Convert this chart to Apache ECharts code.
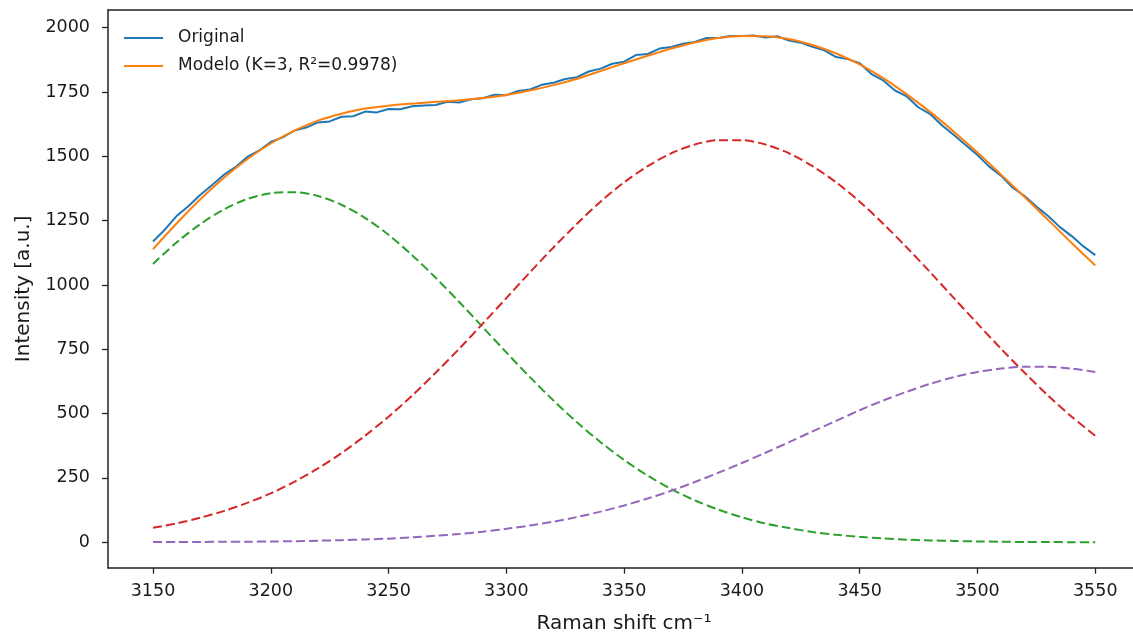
<!DOCTYPE html>
<html>
<head>
<meta charset="utf-8">
<script src="https://cdn.jsdelivr.net/npm/echarts@6/dist/echarts.min.js"></script>
<style>html,body{margin:0;padding:0;background:#fff}#c{width:1133px;height:636px}</style>
</head>
<body>
<div id="c"></div>
<script>
// Raman shift (cm^-1) for the measured spectrum (step 5)
const xOriginal = [3150,3155,3160,3165,3170,3175,3180,3185,3190,3195,3200,3205,3210,3215,3220,3225,3230,3235,3240,3245,3250,3255,3260,3265,3270,3275,3280,3285,3290,3295,3300,3305,3310,3315,3320,3325,3330,3335,3340,3345,3350,3355,3360,3365,3370,3375,3380,3385,3390,3395,3400,3405,3410,3415,3420,3425,3430,3435,3440,3445,3450,3455,3460,3465,3470,3475,3480,3485,3490,3495,3500,3505,3510,3515,3520,3525,3530,3535,3540,3545,3550];
const original = [1169,1215,1268,1306,1350,1388,1428,1458,1498,1522,1556,1574,1600,1612,1632,1636,1654,1656,1674,1671,1684,1683,1695,1698,1700,1712,1709,1722,1726,1740,1738,1754,1760,1778,1786,1801,1808,1830,1841,1860,1868,1894,1898,1919,1925,1938,1945,1960,1960,1968,1968,1970,1962,1967,1950,1942,1926,1912,1886,1878,1862,1820,1795,1756,1733,1690,1664,1620,1583,1544,1505,1460,1425,1378,1346,1305,1268,1225,1190,1150,1116];

// Raman shift for fitted curves (step 10)
const xFit = [3150,3160,3170,3180,3190,3200,3210,3220,3230,3240,3250,3260,3270,3280,3290,3300,3310,3320,3330,3340,3350,3360,3370,3380,3390,3400,3410,3420,3430,3440,3450,3460,3470,3480,3490,3500,3510,3520,3530,3540,3550];
const model = [1139,1239,1332,1416,1489,1550,1600,1639,1666,1686,1697,1705,1712,1718,1727,1739,1756,1777,1802,1832,1862,1891,1919,1943,1960,1968,1967,1956,1933,1900,1858,1804,1741,1672,1596,1515,1429,1342,1253,1163,1076];
const comp1 = [1082,1165,1236,1293,1334,1357,1361,1346,1312,1261,1195,1116,1028,934,836,738,642,551,466,389,320,259,207,163,127,97,73,55,40,29,21,15,10,7,5,3,2,1,1,0,0];
const comp2 = [56,73,95,121,153,190,235,287,346,414,488,570,659,752,850,949,1049,1146,1238,1324,1399,1462,1512,1546,1563,1563,1546,1512,1462,1399,1324,1238,1146,1049,949,850,752,659,570,488,414];
const comp3 = [1,1,1,2,2,3,4,6,8,11,14,19,25,32,41,52,65,80,98,119,143,170,200,234,270,308,348,389,431,472,513,551,585,616,642,662,675,682,682,675,662];

const xTicks = [3150,3200,3250,3300,3350,3400,3450,3500,3550];
const yTicks = [0,250,500,750,1000,1250,1500,1750,2000];

const names = ['Original','Modelo (K=3, R\u00b2=0.9978)'];
const xLabel = 'Raman shift cm\u207b\u00b9';
const yLabel = 'Intensity [a.u.]';

const pairs = (xs, ys) => xs.map((x, i) => [x, ys[i]]);
const FONT = 'DejaVu Sans';
const axisCol = '#222';
const txtCol = '#1a1a1a';
const X_MIN = 3130.9, X_MAX = 3569;

const chart = echarts.init(document.getElementById('c'), null, {renderer: 'canvas'});
const dashed = (data, color) => ({
  type: 'line', data: pairs(xFit, data), symbol: 'none', smooth: 0.3,
  lineStyle: {color, width: 2, type: [9, 4]}, z: 3, silent: true
});
chart.setOption({
  animation: false,
  backgroundColor: '#fff',
  grid: {left: 108, top: 10, width: 1032, height: 557.7, outerBoundsMode: 'none', containLabel: false, show: false},
  legend: {
    orient: 'vertical', left: 124, top: 28, padding: 0, itemGap: 8,
    itemWidth: 39, itemHeight: 2,
    textStyle: {fontFamily: FONT, fontSize: 17, color: txtCol, lineHeight: 20, padding: [0, 0, 0, 10]},
    data: names.map(n => ({name: n, icon: 'rect'}))
  },
  xAxis: [{
    type: 'value', position: 'bottom', min: X_MIN, max: X_MAX,
    axisLine: {show: true, onZero: false, lineStyle: {color: axisCol, width: 1.5}},
    axisTick: {show: true, length: 6, lineStyle: {color: axisCol, width: 1.3}, customValues: xTicks},
    axisLabel: {fontFamily: FONT, fontSize: 17.5, color: txtCol, margin: 15, customValues: xTicks,
                formatter: v => String(v)},
    splitLine: {show: false},
    name: xLabel, nameLocation: 'middle', nameGap: 46,
    nameTextStyle: {fontFamily: FONT, fontSize: 20, color: txtCol}
  }, {
    type: 'value', position: 'top', min: X_MIN, max: X_MAX,
    axisLine: {show: true, onZero: false, lineStyle: {color: axisCol, width: 1.5}},
    axisTick: {show: false}, axisLabel: {show: false}, splitLine: {show: false}
  }],
  yAxis: {
    type: 'value', min: -99, max: 2069,
    axisLine: {show: true, onZero: false, lineStyle: {color: axisCol, width: 1.5}},
    axisTick: {show: true, length: 6, lineStyle: {color: axisCol, width: 1.3}, customValues: yTicks},
    axisLabel: {fontFamily: FONT, fontSize: 17.5, color: txtCol, margin: 18, customValues: yTicks,
                formatter: v => String(v)},
    splitLine: {show: false},
    name: yLabel, nameLocation: 'middle', nameGap: 74, nameRotate: 90,
    nameTextStyle: {fontFamily: FONT, fontSize: 20, color: txtCol}
  },
  series: [
    {name: names[0], type: 'line', data: pairs(xOriginal, original), symbol: 'none',
     lineStyle: {color: '#1f77b4', width: 2}, itemStyle: {color: '#1f77b4'}, z: 2},
    {name: names[1], type: 'line', data: pairs(xFit, model), symbol: 'none', smooth: 0.3,
     lineStyle: {color: '#ff7f0e', width: 2}, itemStyle: {color: '#ff7f0e'}, z: 2},
    dashed(comp1, '#2ca02c'),
    dashed(comp2, '#d62728'),
    dashed(comp3, '#9467bd')
  ]
});
</script>
</body>
</html>
